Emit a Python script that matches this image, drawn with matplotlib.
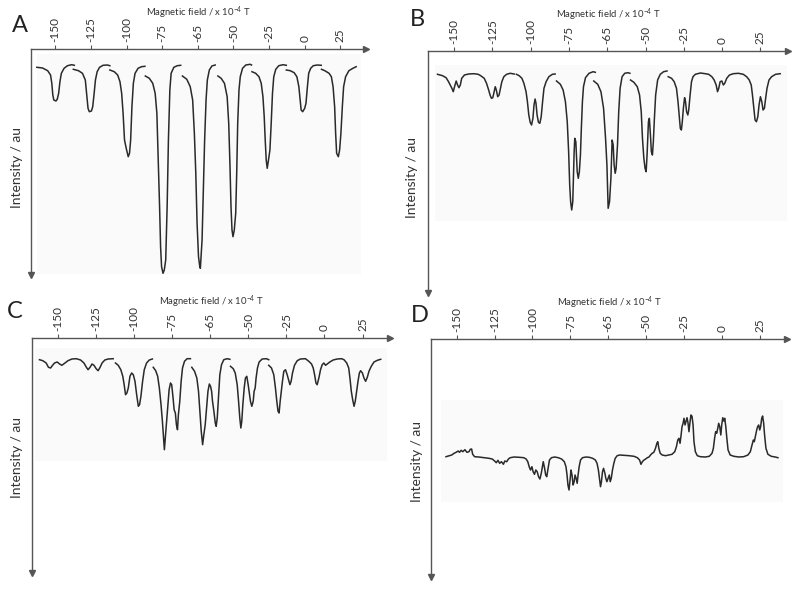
import numpy as np
import matplotlib
matplotlib.use('Agg')
import matplotlib.pyplot as plt
from matplotlib.patches import Rectangle

plt.rcParams['font.family'] = ['Lato', 'DejaVu Sans']
plt.rcParams['mathtext.default'] = 'regular'

# ---------------- axis definitions ----------------
tick_positions = [-150, -125, -100, -75, -50, -25, 0, 25, 50]
tick_labels = ['-150', '-125', '-100', '-75', '-65', '-50', '-25', '0', '25']
x_label = 'Magnetic field / x 10$^{-4}$ T'
y_label = 'Intensity / au'
field_range = (-167, 68)

# ---------------- panel A (segments separated by None) ----------------
A_field = [
    -162.9, -158.9, -155.3, -153.3, -152.4, -151.7, -151.0, -149.5, -148.6, -147.6, -146.7, -145.7, -143.8, -141.4, -138.5, -136.6, None,
    -137.3, -133.7, -130.9, -128.9, -127.8, -127.0, -126.1, -124.6, -123.7, -122.7, -121.8, -120.6, -118.9, -116.5, -113.4, -111.7, None,
    -111.7, -108.6, -106.2, -104.6, -103.4, -102.4, -101.4, -100.2, -98.8, -97.9, -97.1, -96.2, -95.2, -94.0, -91.9, -89.5, -87.1, None,
    -86.8, -84.0, -81.6, -79.9, -78.7, -77.8, -76.8, -76.1, -75.4, -74.4, -73.5, -72.5, -71.5, -70.6, -69.6, -68.7, -66.8, -64.4, -62.0, None,
    -60.8, -57.7, -55.3, -53.6, -52.4, -51.4, -50.5, -49.5, -48.6, -48.2, -47.0, -46.1, -45.2, -44.2, -43.3, -41.9, -40.1, -37.8, None,
    -35.9, -33.6, -31.3, -29.4, -28.3, -27.4, -26.7, -26.0, -25.3, -24.4, -23.4, -22.7, -22.0, -21.1, -20.2, -18.6, -16.3, -13.3, -12.3, None,
    -12.0, -9.4, -7.1, -5.5, -4.3, -3.4, -2.7, -2.0, -1.3, -0.4, 0.6, 1.5, 2.4, 3.3, 4.7, 6.8, 9.8, 12.1, None,
    12.1, 14.9, 17.6, 19.5, 20.9, 21.8, 22.5, 23.6, 25.0, 25.9, 26.9, 27.8, 29.2, 31.0, 33.8, 36.6, None,
    36.8, 39.1, 42.1, 43.7, 44.9, 46.0, 46.7, 47.4, 48.6, 49.5, 50.4, 51.4, 52.3, 53.7, 56.0, 58.8, 61.1,
]
A_int = [
    18.3, 19.0, 21.7, 26.0, 34.3, 46.0, 51.0, 52.0, 50.3, 44.3, 32.7, 24.3, 19.3, 16.7, 15.7, 16.3, None,
    20.3, 21.7, 24.3, 31.0, 47.7, 59.3, 62.7, 62.0, 57.7, 44.3, 31.0, 22.7, 18.3, 16.3, 16.0, 16.7, None,
    21.0, 22.7, 26.0, 32.7, 44.3, 64.3, 91.0, 99.3, 107.7, 104.3, 91.0, 57.7, 34.3, 24.3, 19.3, 17.7, 17.3, None,
    27.0, 29.3, 34.3, 44.3, 64.3, 107.7, 157.7, 197.7, 217.7, 224.3, 221.0, 211.0, 157.7, 91.0, 41.0, 24.3, 18.3, 16.7, 16.3, None,
    27.0, 30.3, 37.7, 51.0, 84.3, 124.3, 174.3, 207.7, 217.7, 219.3, 191.0, 141.0, 91.0, 51.0, 31.0, 21.0, 17.0, 16.0, None,
    27.0, 29.3, 34.3, 47.7, 74.3, 117.7, 157.7, 181.0, 187.7, 181.0, 164.3, 124.3, 74.3, 41.0, 27.7, 19.3, 16.0, 15.3, 16.0, None,
    22.7, 24.3, 27.7, 34.3, 47.7, 67.7, 91.0, 111.0, 119.3, 111.0, 101.0, 74.3, 44.3, 27.7, 20.3, 16.7, 15.7, 16.3, None,
    21.0, 21.7, 23.7, 27.7, 37.7, 51.0, 61.0, 62.7, 59.3, 54.3, 37.7, 24.3, 19.3, 16.7, 16.0, 16.3, None,
    20.3, 21.7, 24.3, 27.7, 37.7, 57.7, 84.3, 104.3, 107.7, 101.0, 84.3, 57.7, 37.7, 27.7, 21.7, 19.3, 17.7,
]

# ---------------- panel B ----------------
B_field = [
    -160.8, -157.5, -155.2, -153.6, -152.3, -151.4, -150.5, -149.5, -148.6, -147.7, -146.8, -145.9, -145.0, -143.2, -140.5,
    -137.1, -134.2, -132.6, -130.3, -128.8, -127.4, -126.5, -125.6, -124.7, -123.8, -123.1, -122.4, -121.5, -120.6, -119.7,
    -118.8, -117.5, -115.7, -113.4, -110.7, None,
    -109.3, -107.5, -105.7, -104.4, -103.0, -102.1, -101.2, -100.3, -99.4, -98.5, -97.8, -97.1, -96.5, -95.8, -94.9, -94.0,
    -93.1, -92.2, -91.3, -89.9, -88.1, -85.8, -84.0, None,
    -83.1, -80.6, -78.8, -77.3, -76.1, -75.2, -74.5, -73.9, -73.2, -72.5, -72.1, -71.6, -71.2, -70.5, -70.0, -69.6, -68.9,
    -68.2, -67.5, -66.9, -66.2, -65.5, -64.2, -61.9, -59.2, -57.8, None,
    -58.8, -56.2, -54.1, -52.4, -51.1, -50.2, -49.4, -48.5, -47.6, -46.8, -46.1, -45.5, -44.8, -44.2, -43.3, -42.5, -41.6,
    -40.3, -38.6, -36.5, -35.2, None,
    -34.8, -32.6, -30.4, -28.9, -27.8, -27.0, -26.1, -25.3, -24.6, -24.0, -23.1, -22.5, -21.8, -21.2, -20.5, -19.9, -19.2,
    -18.4, -17.1, -15.4, -13.2, -11.0, None,
    -10.2, -8.0, -6.3, -4.8, -3.8, -2.9, -2.3, -1.6, -1.0, -0.3, 0.5, 1.1, 1.8, 2.6, 3.2, 4.1, 5.0, 6.0, 7.5, 10.8, 14.0,
    16.2, 18.3, 19.8, 21.1, 22.0, 22.8, 23.7, 24.8, 25.8, 26.7, 28.0, 29.8, 32.3, 35.6, 38.8, 41.0, 42.7, 44.0, 44.8, 45.7,
    46.5, 47.4, 48.3, 49.1, 50.0, 50.9, 51.7, 52.6, 53.4, 54.3, 55.6, 57.3, 59.9, 62.9,
]
B_int = [
    23.3, 24.7, 26.7, 30.7, 34.7, 37.3, 40.7, 34.7, 30.0, 34.0, 36.7, 34.0, 27.3, 24.0, 23.0,
    22.7, 23.3, 24.7, 27.3, 32.3, 39.0, 44.0, 47.3, 46.7, 40.7, 35.7, 39.0, 45.7, 44.0, 37.3,
    30.7, 25.7, 23.3, 22.3, 23.0, None,
    23.3, 24.7, 27.3, 32.3, 40.7, 50.7, 64.0, 71.3, 74.0, 67.3, 54.0, 48.0, 52.3, 64.0, 71.3, 72.3,
    65.7, 50.7, 37.3, 30.7, 25.7, 23.3, 23.0, None,
    30.0, 33.3, 39.0, 50.7, 70.7, 100.7, 134.0, 150.7, 159.0, 150.7, 127.3, 100.7, 87.3, 90.7, 107.3, 120.7, 127.3,
    120.7, 104.0, 77.3, 50.7, 35.7, 26.7, 22.3, 20.7, 21.3, None,
    30.0, 33.3, 40.7, 57.3, 87.3, 114.0, 157.3, 150.7, 127.3, 89.0, 94.0, 114.0, 122.3, 117.3, 94.0, 60.7, 37.3,
    25.7, 22.3, 21.7, 22.3, None,
    29.0, 31.3, 35.7, 44.0, 60.7, 87.3, 107.3, 117.3, 120.7, 104.0, 70.7, 67.3, 84.0, 100.7, 104.0, 90.7, 67.3,
    44.0, 29.0, 23.3, 20.7, 20.0, None,
    25.7, 27.3, 30.7, 37.3, 50.7, 67.3, 77.3, 79.0, 70.7, 57.3, 46.7, 50.7, 60.7, 64.0, 59.0, 44.0, 30.7, 25.7, 23.3, 22.0, 22.7,
    23.3, 25.7, 29.0, 34.0, 40.7, 37.3, 30.7, 30.0, 34.0, 32.3, 27.3, 24.0, 22.7, 22.3, 23.3, 25.7, 29.0, 34.0, 44.0, 57.3,
    69.0, 70.7, 65.7, 54.0, 45.7, 50.7, 59.0, 57.3, 47.3, 37.3, 29.0, 25.7, 23.3, 22.7,
]

# ---------------- panel C ----------------
C_field = [
    -162.1, -159.9, -157.7, -156.2, -154.8, -153.5, -152.2, -150.4, -148.9, -147.4, -145.6, -143.4, -140.8, -137.9,
    -135.1, -132.9, -131.3, -130.2, -128.9, -127.6, -126.3, -124.9, -123.6, -122.3, -121.0, -119.2, -117.0, -113.7, None,
    -112.2, -110.4, -108.7, -107.4, -106.5, -105.6, -104.7, -103.8, -102.7, -101.6, -100.5, -99.4, -98.3, -97.2, -96.4,
    -95.5, -94.4, -93.3, -91.8, -90.0, -88.0, None,
    -87.4, -85.8, -84.5, -83.4, -82.3, -81.4, -80.8, -80.1, -79.5, -78.8, -77.9, -77.0, -76.1, -75.3, -74.4, -73.7,
    -72.9, -72.2, -71.5, -70.9, -70.0, -69.1, -68.2, -66.9, -65.2, -63.0, None,
    -62.1, -60.3, -58.8, -57.7, -56.8, -55.9, -55.0, -54.2, -53.3, -52.4, -51.5, -50.6, -49.8, -49.1, -48.5, -47.6,
    -46.7, -46.1, -45.4, -44.5, -43.7, -42.6, -41.1, -38.9, -37.1, None,
    -36.7, -34.9, -33.6, -32.3, -31.4, -30.6, -29.9, -29.3, -28.6, -27.7, -26.9, -26.0, -25.1, -24.2, -23.6, -22.7,
    -21.8, -21.2, -20.5, -19.9, -19.0, -17.9, -15.9, -13.1, -11.6, None,
    -11.6, -9.8, -8.3, -7.2, -6.3, -5.5, -4.8, -4.1, -3.5, -2.6, -1.7, -0.6, 0.5, 1.4, 2.3, 3.1, 4.0, 5.3, 7.1, 9.2,
    12.5, 14.7, 16.5, 17.6, 18.5, 19.4, 20.2, 21.3, 22.4, 23.5, 24.6, 25.7, 26.8, 28.5, 30.7, 33.4, 36.2, 37.8, 39.6, 40.9,
    41.7, 42.6, 43.5, 44.4, 45.2, 46.1, 47.0, 47.9, 48.7, 49.9, 50.9, 52.0, 53.1, 54.2, 55.7, 57.5, 59.7, 61.9,
]
C_int = [
    21.7, 22.7, 25.0, 29.3, 30.0, 27.3, 25.0, 24.0, 26.0, 27.3, 25.3, 22.7, 21.0, 20.7,
    22.0, 25.0, 29.3, 31.7, 29.3, 26.0, 27.3, 30.7, 32.7, 29.3, 25.0, 22.0, 21.0, 20.7, None,
    25.0, 27.3, 31.7, 38.3, 46.7, 56.7, 55.0, 50.0, 38.3, 35.0, 36.7, 43.3, 56.7, 68.3, 66.7,
    58.3, 43.3, 31.7, 25.0, 22.0, 21.0, None,
    29.3, 32.7, 38.3, 50.0, 66.7, 83.3, 96.7, 111.7, 100.0, 86.7, 70.0, 51.7, 45.0, 46.7, 60.0, 71.7,
    75.0, 86.7, 91.7, 76.7, 63.3, 43.3, 30.0, 23.3, 20.7, 20.7, None,
    29.3, 33.3, 40.0, 53.3, 73.3, 93.3, 106.7, 96.7, 86.7, 70.0, 53.3, 46.0, 48.3, 53.3, 63.3, 73.3,
    85.0, 88.3, 80.0, 56.7, 36.7, 26.7, 21.7, 20.7, 21.3, None,
    28.3, 30.7, 35.0, 46.7, 63.3, 80.0, 90.0, 83.3, 66.7, 50.0, 40.0, 38.3, 46.7, 56.7, 63.3, 68.3,
    63.3, 53.3, 50.0, 40.0, 30.0, 24.0, 21.0, 20.7, 21.7, None,
    27.3, 30.0, 36.7, 50.0, 63.3, 73.3, 75.0, 63.3, 55.0, 43.3, 33.3, 31.7, 36.7, 41.7, 46.7, 43.3, 35.0, 27.3, 22.7, 21.0,
    20.7, 23.3, 26.0, 30.0, 36.7, 45.0, 46.7, 40.0, 31.7, 26.7, 25.0, 27.3, 26.0, 24.0, 22.0, 21.0, 20.7, 21.7, 25.0, 30.0,
    40.0, 53.3, 61.7, 68.3, 63.3, 53.3, 43.3, 35.0, 32.7, 35.0, 40.0, 43.3, 39.3, 33.3, 28.3, 24.0, 22.3, 21.3,
]

# ---------------- panel D ----------------
D_field = [
    -157.1, -154.9, -153.3, -151.8, -150.4, -149.1, -148.2, -147.1, -146.0, -144.6,
    -143.3, -141.9, -141.1, -140.2, -139.5, -138.2, -135.5, -132.1, -128.8, -126.6,
    -125.0, -123.9, -122.8, -121.7, -120.5, -119.2, -118.3, -117.0, -115.9, -114.7,
    -112.1, -108.7, -105.8, -104.2, -103.1, -102.2, -101.3, -100.4, -99.6, -98.7,
    -97.8, -96.9, -96.0, -95.1, -94.2, -93.5, -92.9, -92.0, -91.3, -90.6,
    -89.7, -88.8, -87.5, -85.3, -83.0, -80.8, -79.0, -77.9, -77.2, -76.6,
    -75.9, -75.2, -74.6, -73.9, -73.2, -72.5, -71.9, -71.2, -70.5, -69.9,
    -69.2, -68.3, -67.0, -64.7, -62.5, -60.3, -58.5, -57.4, -56.5, -55.8,
    -55.1, -54.5, -53.8, -53.1, -52.2, -51.6, -50.9,
    -49.3, -48.7, -48.0, -47.2, -46.3, -45.4, -44.1, -42.4, -39.5, -36.2,
    -33.0, -30.8, -29.3, -28.4, -27.5, -26.4, -25.3, -24.2, -23.1, -22.1,
    -21.0, -19.9, -18.8, -17.9, -17.3, -16.6, -15.7, -14.4, -12.2, -10.0,
    -7.9, -6.1, -5.0, -4.1, -3.3, -2.6, -1.9, -1.3, -0.6, 0.0,
    0.7, 1.3, 2.0, 2.6, 3.3, 4.0, 4.6, 5.3, 6.0, 6.6,
    7.5, 8.8, 10.8, 14.1, 16.7, 18.5, 19.4, 20.2, 20.9, 21.6,
    22.3, 22.9, 23.6, 24.3, 24.9, 25.6, 26.3, 26.9, 27.6, 28.3,
    29.1, 30.5, 32.9, 36.2, 39.4, 42.2, 43.8, 44.9, 45.8, 46.4,
    47.1, 48.0, 48.6, 49.3, 50.0, 50.6, 51.3, 51.9, 52.6, 53.2,
    54.1, 55.4, 57.6, 60.2, 62.0,
]
D_int = [
    117.7, 116.7, 116.0, 114.3, 113.3, 112.0, 113.3, 111.3, 112.7, 110.7,
    113.3, 112.7, 110.3, 110.0, 115.3, 117.7, 118.0, 118.7, 119.3, 120.0,
    122.0, 123.7, 121.3, 124.3, 122.7, 125.3, 122.0, 122.7, 120.0, 118.7,
    118.0, 118.3, 118.7, 120.0, 122.7, 127.7, 131.0, 127.7, 132.7, 135.3,
    131.0, 132.7, 137.7, 140.0, 134.3, 127.7, 122.7, 129.3, 136.0, 137.7,
    129.3, 121.0, 118.7, 118.0, 118.7, 120.0, 122.7, 127.7, 136.0, 146.0,
    151.0, 141.0, 131.0, 136.0, 146.0, 142.7, 136.0, 139.3, 144.3, 136.0,
    127.7, 121.0, 118.7, 118.0, 118.3, 119.3, 121.0, 124.3, 131.0, 139.3,
    147.7, 142.7, 132.7, 129.3, 134.3, 139.3, 142.7,
    136.0, 142.7, 139.3, 131.0, 124.3, 119.3, 116.7, 116.0, 116.3, 116.7,
    117.3, 118.7, 121.0, 125.3, 122.7, 121.0, 120.0, 118.7, 118.0, 116.0,
    114.3, 113.3, 109.3, 104.3, 102.7, 109.3, 114.3, 116.0, 116.7, 116.0,
    115.3, 112.7, 107.7, 101.0, 99.3, 104.3, 96.0, 87.7, 84.3, 79.3,
    86.0, 82.7, 78.7, 83.3, 92.7, 82.7, 76.0, 77.3, 86.0, 102.7,
    112.7, 116.7, 117.7, 118.0, 117.3, 114.3, 109.3, 99.3, 92.7, 94.3,
    89.3, 84.3, 87.7, 96.0, 86.0, 78.7, 82.0, 79.3, 87.7, 99.3,
    111.0, 116.0, 117.3, 118.0, 117.7, 116.0, 112.7, 106.0, 101.0, 102.7,
    97.7, 91.0, 87.7, 86.0, 91.0, 87.7, 79.3, 77.0, 84.3, 96.0,
    109.3, 115.3, 117.3, 118.0, 118.7,
]

# ---------------- figure ----------------
W, H = 800, 591
fig = plt.figure(figsize=(W / 100, H / 100), dpi=100)

axis_color = '#555555'
line_color = '#2a2a2a'
text_color = '#333333'

panels = [
    dict(letter='A', field=A_field, inten=A_int, ymax=226,
         box=(31, 49, 366, 275), bg=(37, 54, 361, 274), letter_px=(20, 25), ylab_px=(17, 168)),
    dict(letter='B', field=B_field, inten=B_int, ymax=242,
         box=(428, 51, 788, 293), bg=(435, 65, 787, 221), letter_px=(417, 20), ylab_px=(412, 177)),
    dict(letter='C', field=C_field, inten=C_int, ymax=235,
         box=(32, 338, 390, 573), bg=(35, 348, 387, 461), letter_px=(15, 312), ylab_px=(17, 458)),
    dict(letter='D', field=D_field, inten=D_int, ymax=238,
         box=(431, 339, 787, 577), bg=(441, 400, 783, 502), letter_px=(420, 315), ylab_px=(417, 462)),
]

for p in panels:
    x0, y0, x1, y1 = p['box']
    ax = fig.add_axes([x0 / W, 1 - y1 / H, (x1 - x0) / W, (y1 - y0) / H])
    ax.set_facecolor('none')

    # very faint background of the scanned spectrum
    bx0, by0, bx1, by1 = p['bg']
    ax.add_patch(Rectangle(((bx0 - x0) / (x1 - x0), 1 - (by1 - y0) / (y1 - y0)),
                           (bx1 - bx0) / (x1 - x0), (by1 - by0) / (y1 - y0),
                           transform=ax.transAxes, facecolor='#fafafa', edgecolor='none', zorder=0))

    f = np.array(p['field'], dtype=float)
    v = np.array(p['inten'], dtype=float)
    ax.plot(f, v, color=line_color, lw=1.1, zorder=3)

    ax.set_xlim(*field_range)
    ax.set_ylim(p['ymax'], 0)

    for s in ('right', 'bottom'):
        ax.spines[s].set_visible(False)
    for s in ('top', 'left'):
        ax.spines[s].set_color(axis_color)
        ax.spines[s].set_linewidth(1.0)

    ax.xaxis.set_ticks_position('top')
    ax.set_xticks(tick_positions)
    ax.set_xticklabels(tick_labels, rotation=90)
    ax.tick_params(axis='x', direction='out', length=3, width=0.8, colors=axis_color,
                   labelcolor=text_color, labelsize=8.5, pad=2)
    ax.set_yticks([])

    # arrow heads
    ax.plot(1, 1, marker='>', ms=4, color=axis_color, transform=ax.transAxes, clip_on=False)
    ax.plot(0, 0, marker='v', ms=4, color=axis_color, transform=ax.transAxes, clip_on=False)

    ax.annotate(x_label, xy=(0.5, 1), xycoords='axes fraction',
                xytext=(0, 36 * 0.72), textcoords='offset points',
                ha='center', va='center', fontsize=6.8, color=text_color)

    lx, ly = p['letter_px']
    fig.text(lx / W, 1 - ly / H, p['letter'], ha='center', va='center', fontsize=17, color='#222222')
    yx, yy = p['ylab_px']
    fig.text(yx / W, 1 - yy / H, y_label, rotation=90, ha='center', va='center', fontsize=10, color=text_color)

fig.savefig('out.png', dpi=100)
